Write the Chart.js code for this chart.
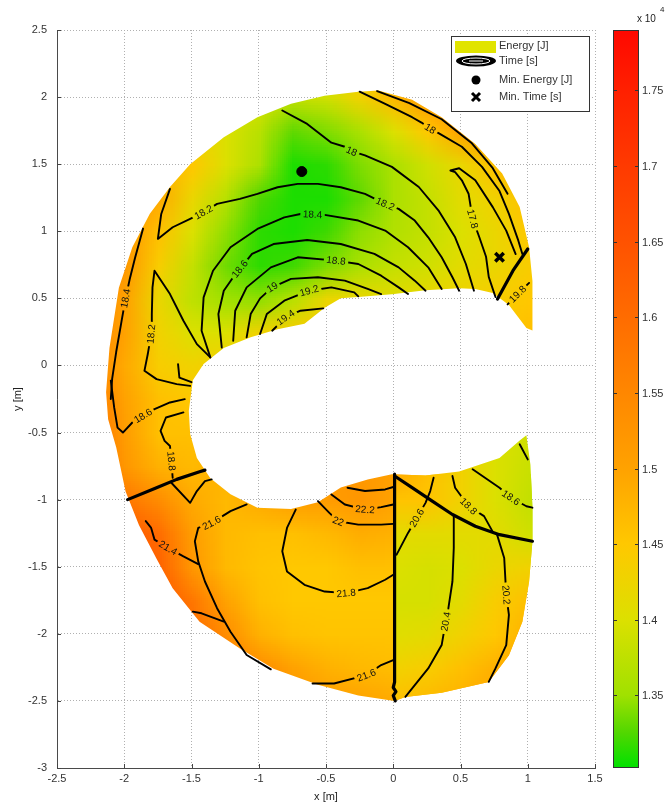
<!DOCTYPE html>
<html><head><meta charset="utf-8">
<script src="https://cdn.jsdelivr.net/npm/chart.js@4.4.1/dist/chart.umd.min.js"></script>
<style>html,body{margin:0;padding:0;background:#fff;}#wrap{width:666px;height:806px;position:relative;}</style>
</head><body><div id="wrap"><canvas id="c" width="666" height="806"></canvas></div>
<script>
// ---------------- DATA ----------------
const xTickValues = [-2.5,-2,-1.5,-1,-0.5,0,0.5,1,1.5];
const yTickValues = [-3,-2.5,-2,-1.5,-1,-0.5,0,0.5,1,1.5,2,2.5];
const cbTickValues = [1.35,1.4,1.45,1.5,1.55,1.6,1.65,1.7,1.75];
const cbMin = 1.302, cbMax = 1.79;           // colour axis, x 10^4 J

const gridX = [-2.25,-2,-1.75,-1.5,-1.25,-1,-0.75,-0.5,-0.25,0,0.25,0.5,0.75,1];
const gridY = [2,1.75,1.5,1.25,1,0.75,0.5,0.25,0,-0.25,-0.5,-0.75,-1,-1.25,-1.5,-1.75,-2,-2.25,-2.5];
const energyGrid = [
 [1.45,1.45,1.43,1.42,1.41,1.40,1.38,1.39,1.43,1.47,1.52,1.54,1.55,1.55],
 [1.48,1.47,1.45,1.43,1.40,1.37,1.33,1.34,1.36,1.40,1.45,1.50,1.53,1.54],
 [1.52,1.50,1.48,1.45,1.40,1.36,1.31,1.315,1.34,1.36,1.39,1.42,1.46,1.50],
 [1.54,1.52,1.49,1.42,1.37,1.325,1.31,1.31,1.33,1.36,1.38,1.41,1.43,1.46],
 [1.55,1.52,1.46,1.40,1.345,1.315,1.31,1.32,1.345,1.365,1.38,1.40,1.42,1.45],
 [1.56,1.52,1.44,1.38,1.335,1.315,1.32,1.34,1.36,1.38,1.39,1.41,1.42,1.44],
 [1.56,1.50,1.42,1.375,1.35,1.345,1.37,1.42,1.42,1.41,1.42,1.43,1.44,1.45],
 [1.56,1.50,1.43,1.40,1.40,1.43,1.44,1.45,1.44,1.43,1.43,1.44,1.45,1.46],
 [1.56,1.49,1.44,1.43,1.44,1.45,1.46,1.47,1.47,1.46,1.45,1.45,1.45,1.46],
 [1.58,1.50,1.46,1.45,1.46,1.47,1.48,1.48,1.48,1.47,1.46,1.45,1.44,1.43],
 [1.60,1.51,1.46,1.46,1.47,1.48,1.49,1.50,1.50,1.48,1.45,1.42,1.40,1.39],
 [1.60,1.52,1.48,1.47,1.48,1.50,1.52,1.52,1.52,1.50,1.46,1.43,1.40,1.385],
 [1.62,1.58,1.54,1.49,1.47,1.49,1.51,1.51,1.52,1.50,1.455,1.43,1.40,1.38],
 [1.66,1.64,1.60,1.51,1.47,1.46,1.46,1.47,1.485,1.48,1.41,1.41,1.41,1.39],
 [1.68,1.66,1.62,1.52,1.47,1.455,1.45,1.45,1.46,1.46,1.395,1.40,1.42,1.43],
 [1.68,1.66,1.64,1.58,1.50,1.46,1.45,1.45,1.45,1.45,1.395,1.41,1.44,1.46],
 [1.66,1.64,1.62,1.60,1.54,1.48,1.46,1.455,1.455,1.455,1.41,1.43,1.45,1.48],
 [1.66,1.64,1.62,1.60,1.58,1.54,1.50,1.48,1.47,1.465,1.44,1.46,1.48,1.50],
 [1.66,1.64,1.62,1.60,1.58,1.56,1.53,1.51,1.50,1.49,1.47,1.48,1.50,1.52]
];
// values just right of the jump along x = 0 (lower half)
const energyRightOfX0 = [null,null,null,null,null,null,null,null,null,null,null,null,1.455,1.41,1.40,1.395,1.405,1.43,1.46];
const energyJumpTopY = -0.81;

// colour map
const cmapValues = [1.302,1.325,1.35,1.40,1.45,1.50,1.55,1.60,1.65,1.70,1.75,1.79];
const cmapColors = [[0,225,0],[80,215,0],[160,225,0],[220,224,0],[255,200,0],[255,162,0],[255,135,0],[255,108,0],[255,82,0],[255,58,0],[255,32,0],[255,8,0]];

// domain (C-shaped region)
const regionOuter = [[1.035,0.26],[1.035,0.63],[1.01,0.88],[0.94,1.18],[0.81,1.43],[0.61,1.65],[0.36,1.85],[0.14,1.98],[-0.11,2.05],[-0.26,2.04],[-0.51,2.01],[-0.76,1.95],[-1.01,1.85],[-1.26,1.70],[-1.51,1.50],[-1.66,1.33],[-1.81,1.13],[-1.94,0.88],[-2.04,0.58],[-2.11,0.13],[-2.135,-0.2],[-2.12,-0.4],[-2.06,-0.61],[-1.99,-0.94],[-1.89,-1.19],[-1.76,-1.44],[-1.64,-1.66],[-1.44,-1.91],[-1.14,-2.11],[-0.89,-2.26],[-0.56,-2.38],[-0.26,-2.46],[0.01,-2.5],[0.09,-2.47],[0.36,-2.44],[0.71,-2.36],[0.86,-2.16],[0.96,-1.91],[1.01,-1.61],[1.035,-1.31],[1.035,-1.06],[1.02,-0.74],[0.99,-0.52]];
const regionInner = [[0.94,-0.56],[0.79,-0.69],[0.49,-0.79],[0.24,-0.82],[-0.01,-0.81],[-0.19,-0.85],[-0.39,-0.91],[-0.56,-1.02],[-0.76,-1.07],[-1.01,-1.06],[-1.21,-0.96],[-1.36,-0.84],[-1.46,-0.69],[-1.51,-0.51],[-1.52,-0.34],[-1.49,-0.11],[-1.41,0.01],[-1.26,0.13],[-1.06,0.21],[-0.86,0.27],[-0.66,0.31],[-0.51,0.43],[-0.39,0.50],[-0.26,0.51],[-0.01,0.53],[0.24,0.56],[0.49,0.575],[0.61,0.57],[0.74,0.54],[0.86,0.45],[0.99,0.28]];

// time contours [s]
const time18Top = [[-0.25,2.04],[-0.06,1.95],[0.14,1.85],[0.21,1.81],[0.275,1.764],[0.34,1.73],[0.51,1.63],[0.66,1.48],[0.79,1.30],[0.86,1.13],[0.93,0.93],[0.96,0.83]];
const timeEdgeTop = [[-0.12,2.045],[0.12,1.955],[0.36,1.835],[0.58,1.66],[0.74,1.47],[0.85,1.28]];
const time18Mid = [[-0.825,1.90],[-0.64,1.80],[-0.46,1.66],[-0.36,1.63],[-0.31,1.597],[-0.21,1.565],[-0.01,1.48],[0.19,1.33],[0.34,1.15],[0.46,0.955],[0.54,0.756],[0.60,0.557]];
const time178 = [[0.76,0.51],[0.71,0.66],[0.69,0.81],[0.64,0.955],[0.59,1.092],[0.56,1.28],[0.51,1.38],[0.46,1.44],[0.425,1.453],[0.49,1.47],[0.61,1.38],[0.74,1.18],[0.84,1.005],[0.91,0.83]];
const time182 = [[-1.66,1.316],[-1.725,1.129],[-1.75,0.943],[-1.64,1.03],[-1.51,1.092],[-1.41,1.142],[-1.31,1.204],[-1.14,1.241],[-1.01,1.279],[-0.86,1.328],[-0.71,1.353],[-0.56,1.353],[-0.39,1.328],[-0.21,1.279],[-0.06,1.204],[0.04,1.167],[0.16,1.08],[0.26,0.955],[0.36,0.806],[0.44,0.657],[0.49,0.557]];
const time184 = [[-1.36,0.06],[-1.425,0.259],[-1.41,0.507],[-1.34,0.706],[-1.21,0.881],[-1.01,1.017],[-0.81,1.104],[-0.69,1.129],[-0.6,1.125],[-0.51,1.122],[-0.26,1.08],[-0.06,1.005],[0.11,0.881],[0.26,0.731],[0.36,0.57]];
const time186 = [[-1.275,0.134],[-1.30,0.383],[-1.26,0.557],[-1.19,0.657],[-1.14,0.72],[-1.05,0.831],[-0.89,0.905],[-0.64,0.935],[-0.39,0.905],[-0.14,0.831],[0.04,0.731],[0.16,0.632],[0.24,0.557]];
const time188 = [[-1.19,0.184],[-1.175,0.408],[-1.09,0.582],[-0.91,0.731],[-0.71,0.806],[-0.425,0.781],[-0.26,0.756],[-0.09,0.669],[0.04,0.582],[0.11,0.532]];
const time19 = [[-1.09,0.209],[-1.06,0.383],[-0.99,0.50],[-0.9,0.582],[-0.76,0.645],[-0.56,0.657],[-0.36,0.632],[-0.19,0.57],[-0.09,0.532]];
const time192 = [[-0.99,0.234],[-0.94,0.383],[-0.81,0.483],[-0.625,0.557],[-0.46,0.582],[-0.29,0.545],[-0.26,0.515]];
const time194 = [[-0.9,0.259],[-0.8,0.358],[-0.69,0.408],[-0.52,0.425]];
const time184Left = [[-1.86,1.02],[-1.92,0.80],[-1.96,0.64],[-1.99,0.50],[-2.02,0.33],[-2.06,0.10],[-2.09,-0.10],[-2.10,-0.25]];
const time182Left = [[-1.51,-0.152],[-1.61,-0.139],[-1.76,-0.102],[-1.85,-0.04],[-1.825,0.085],[-1.80,0.234],[-1.795,0.383],[-1.79,0.582],[-1.775,0.706],[-1.66,0.532],[-1.56,0.333],[-1.46,0.159],[-1.36,0.06]];
const timeSmallLeft = [[-1.6,0.01],[-1.59,-0.09],[-1.50,-0.125]];
const time186Low = [[-2.1,-0.113],[-2.075,-0.313],[-2.05,-0.463],[-2.01,-0.5],[-1.94,-0.425],[-1.86,-0.375],[-1.775,-0.325],[-1.66,-0.276],[-1.55,-0.251]];
const time188Low = [[-1.56,-0.35],[-1.69,-0.388],[-1.73,-0.488],[-1.70,-0.562],[-1.66,-0.6],[-1.65,-0.712],[-1.64,-0.837]];
const timeThickLeft = [[-1.975,-1.0],[-1.76,-0.911],[-1.61,-0.849],[-1.44,-0.792],[-1.40,-0.78]];
const timeSmallV = [[-1.65,-0.874],[-1.51,-1.024],[-1.46,-0.936],[-1.40,-0.862],[-1.35,-0.849]];
const time216a = [[-1.09,-1.036],[-1.21,-1.086],[-1.35,-1.173],[-1.45,-1.211],[-1.475,-1.31],[-1.45,-1.46],[-1.40,-1.61],[-1.31,-1.809],[-1.21,-1.984],[-1.09,-2.158],[-0.91,-2.265]];
const time214 = [[-1.84,-1.16],[-1.80,-1.211],[-1.775,-1.298],[-1.675,-1.36],[-1.56,-1.423],[-1.45,-1.48]];
const timeSmallLow = [[-1.49,-1.835],[-1.425,-1.847],[-1.26,-1.909]];
const time222a = [[-0.34,-0.911],[-0.21,-0.936],[-0.06,-0.924],[0.0,-0.906]];
const time222 = [[-0.46,-0.961],[-0.36,-1.036],[-0.21,-1.074],[-0.09,-1.056],[0.0,-1.036]];
const time22 = [[-0.56,-1.011],[-0.475,-1.099],[-0.41,-1.161],[-0.26,-1.186],[-0.09,-1.186],[0.0,-1.181]];
const time218 = [[-0.725,-1.074],[-0.79,-1.211],[-0.825,-1.385],[-0.79,-1.535],[-0.66,-1.635],[-0.51,-1.685],[-0.35,-1.697],[-0.19,-1.66],[-0.06,-1.597],[0.0,-1.56]];
const time216b = [[-0.6,-2.37],[-0.44,-2.37],[-0.2,-2.308],[-0.09,-2.233],[0.0,-2.196]];
const timeThickV = [[0.01,-0.81],[0.01,-2.36],[0.0,-2.40],[0.02,-2.43],[0.0,-2.46],[0.015,-2.5]];
const timeThickDiag = [[0.01,-0.824],[0.14,-0.911],[0.29,-1.011],[0.44,-1.111],[0.61,-1.198],[0.79,-1.261],[1.035,-1.31]];
const time206 = [[0.025,-1.41],[0.11,-1.248],[0.175,-1.136],[0.24,-1.024],[0.275,-0.936],[0.3,-0.837]];
const time204 = [[0.45,-1.12],[0.45,-1.36],[0.44,-1.61],[0.41,-1.809],[0.39,-1.909],[0.36,-2.084],[0.26,-2.258],[0.09,-2.47]];
const time202 = [[0.77,-1.255],[0.825,-1.435],[0.84,-1.71],[0.86,-1.859],[0.84,-2.084],[0.76,-2.258],[0.71,-2.358]];
const time188R = [[0.44,-0.824],[0.46,-0.911],[0.56,-1.049],[0.675,-1.123],[0.74,-1.24]];
const time186R = [[0.59,-0.774],[0.79,-0.911],[0.875,-0.986],[0.99,-1.049],[1.035,-1.06]];
const timeEdgeRightLow = [[0.94,-0.587],[1.0,-0.70]];
const time198 = [[0.85,0.455],[0.925,0.532],[1.01,0.615]];
const timeThickUR = [[1.0,0.868],[0.89,0.706],[0.775,0.495]];

const thinContours = [time18Top,timeEdgeTop,time18Mid,time178,time182,time184,time186,time188,time19,time192,time194,
  time184Left,time182Left,timeSmallLeft,time186Low,time188Low,timeSmallV,time216a,time214,timeSmallLow,
  time222a,time222,time22,time218,time216b,time206,time204,time202,time188R,time186R,timeEdgeRightLow,time198];
const thickContours = [timeThickLeft,timeThickV,timeThickDiag,timeThickUR];

// contour labels: [text, x, y]
const contourLabels = [
 ['18',0.275,1.764],['18',-0.31,1.597],['17.8',0.59,1.092],['18.2',-1.41,1.142],['18.2',-0.06,1.204],
 ['18.4',-0.6,1.125],['18.6',-1.14,0.72],['18.8',-0.425,0.781],['19',-0.9,0.582],['19.2',-0.625,0.557],
 ['19.4',-0.8,0.358],['18.4',-1.99,0.50],['18.2',-1.80,0.234],['19.8',0.925,0.532],
 ['18.6',-1.86,-0.375],['18.8',-1.65,-0.712],['21.6',-1.35,-1.173],['21.4',-1.675,-1.36],
 ['22.2',-0.21,-1.074],['22',-0.41,-1.161],['21.8',-0.35,-1.697],['21.6',-0.2,-2.308],
 ['20.6',0.175,-1.136],['20.4',0.39,-1.909],['20.2',0.84,-1.71],['18.8',0.56,-1.049],['18.6',0.875,-0.986]
];

const minEnergyPoint = [-0.68,1.445];
const minTimePoint = [0.79,0.806];

// ---------------- DRAWING ----------------
const FONT = '"Liberation Sans", Arial, Helvetica, sans-serif';
const fmt = v => String(Math.round(v*100)/100);

function energyColor(v){
  if (v <= cmapValues[0]) return cmapColors[0];
  for (let i=1;i<cmapValues.length;i++){
    if (v <= cmapValues[i]){
      const t=(v-cmapValues[i-1])/(cmapValues[i]-cmapValues[i-1]);
      return cmapColors[i-1].map((c,k)=>Math.round(c+(cmapColors[i][k]-c)*t));
    }
  }
  return cmapColors[cmapColors.length-1];
}
function buildImage(grid){
  const c=document.createElement('canvas'); c.width=gridX.length; c.height=gridY.length;
  const g=c.getContext('2d'); const im=g.createImageData(c.width,c.height);
  for(let j=0;j<gridY.length;j++) for(let i=0;i<gridX.length;i++){
    const col=energyColor(grid[j][i]); const o=(j*c.width+i)*4;
    im.data[o]=col[0]; im.data[o+1]=col[1]; im.data[o+2]=col[2]; im.data[o+3]=255;
  }
  g.putImageData(im,0,0); return c;
}
const gridB = energyGrid.map((row,j)=>row.map((v,i)=>(gridX[i]===0 && energyRightOfX0[j]!=null)?energyRightOfX0[j]:v));
let imgA=null, imgB=null;

function regionPath(ctx,xs,ys){
  ctx.beginPath();
  regionOuter.concat(regionInner).forEach((p,k)=>{
    const X=xs.getPixelForValue(p[0]), Y=ys.getPixelForValue(p[1]);
    if(k) ctx.lineTo(X,Y); else ctx.moveTo(X,Y);
  });
  ctx.closePath();
}
function paintField(chart, extra){
  const ctx=chart.ctx, xs=chart.scales.x, ys=chart.scales.y;
  if(!imgA){ imgA=buildImage(energyGrid); imgB=buildImage(gridB); }
  const dx=gridX[1]-gridX[0], dy=gridY[0]-gridY[1];
  const l=xs.getPixelForValue(gridX[0]-dx/2), r=xs.getPixelForValue(gridX[gridX.length-1]+dx/2);
  const t=ys.getPixelForValue(gridY[0]+dy/2), b=ys.getPixelForValue(gridY[gridY.length-1]-dy/2);
  for(const pass of [0,1]){
    ctx.save();
    regionPath(ctx,xs,ys); ctx.clip();
    if(pass===1){
      const x0=xs.getPixelForValue(0), yj=ys.getPixelForValue(energyJumpTopY);
      ctx.beginPath(); ctx.rect(x0,yj,xs.right-x0,ys.bottom-yj); ctx.clip();
    }
    if(extra){ const tr=ctx.getTransform(); extra(ctx); ctx.setTransform(tr); }
    ctx.imageSmoothingEnabled=true; ctx.imageSmoothingQuality='low';
    ctx.drawImage(pass?imgB:imgA, l, t, r-l, b-t);
    ctx.restore();
  }
}
function labelAngle(lx,ly,xs,ys){
  let best=Infinity, ang=0;
  for(const line of thinContours.concat(thickContours)){
    for(let k=0;k<line.length;k++){
      const d=Math.hypot(line[k][0]-lx,line[k][1]-ly);
      if(d<best){
        best=d;
        const a=line[Math.max(0,k-1)], c=line[Math.min(line.length-1,k+1)];
        ang=Math.atan2(ys.getPixelForValue(c[1])-ys.getPixelForValue(a[1]), xs.getPixelForValue(c[0])-xs.getPixelForValue(a[0]));
      }
    }
  }
  if(ang>Math.PI/2) ang-=Math.PI;
  if(ang<=-Math.PI/2) ang+=Math.PI;
  return ang;
}

const fieldPlugin = {
  id:'field',
  beforeDatasetsDraw(chart){ paintField(chart,null); },
  afterDatasetsDraw(chart){
    const ctx=chart.ctx, xs=chart.scales.x, ys=chart.scales.y;
    ctx.save();
    ctx.font='10px '+FONT;
    for(const [txt,lx,ly] of contourLabels){
      const px=xs.getPixelForValue(lx), py=ys.getPixelForValue(ly);
      const a=labelAngle(lx,ly,xs,ys);
      const w=ctx.measureText(txt).width+5, h=11;
      paintField(chart,(c)=>{ c.translate(px,py); c.rotate(a); c.beginPath(); c.rect(-w/2,-h/2,w,h); c.clip(); });
      ctx.save(); ctx.translate(px,py); ctx.rotate(a);
      ctx.fillStyle='#111'; ctx.textAlign='center'; ctx.textBaseline='middle';
      ctx.fillText(txt,0,0.5); ctx.restore();
    }
    ctx.restore();
  },
  afterDraw(chart){
    const ctx=chart.ctx, xs=chart.scales.x, ys=chart.scales.y, cb=chart.scales.cb, ca=chart.chartArea;
    ctx.save();
    // inward ticks
    ctx.strokeStyle='#444'; ctx.lineWidth=1;
    for(const v of xTickValues){ const X=Math.round(xs.getPixelForValue(v))+0.5; ctx.beginPath(); ctx.moveTo(X,ca.bottom); ctx.lineTo(X,ca.bottom-4); ctx.stroke(); }
    for(const v of yTickValues){ const Y=Math.round(ys.getPixelForValue(v))+0.5; ctx.beginPath(); ctx.moveTo(ca.left,Y); ctx.lineTo(ca.left+4,Y); ctx.stroke(); }
    // axis titles
    ctx.fillStyle='#222'; ctx.font='11px '+FONT; ctx.textAlign='center'; ctx.textBaseline='middle';
    ctx.fillText('x [m]', (ca.left+ca.right)/2, 797);
    ctx.save(); ctx.translate(18,(ca.top+ca.bottom)/2); ctx.rotate(-Math.PI/2); ctx.fillText('y [m]',0,0); ctx.restore();
    // colour bar
    const bx0=ca.right+18, bw=26;
    const yTop=cb.getPixelForValue(cbMax), yBot=cb.getPixelForValue(cbMin);
    const grad=ctx.createLinearGradient(0,yBot,0,yTop);
    cmapValues.forEach((v,i)=>{ const f=Math.min(1,Math.max(0,(v-cbMin)/(cbMax-cbMin))); const c=cmapColors[i]; grad.addColorStop(f,`rgb(${c[0]},${c[1]},${c[2]})`); });
    ctx.fillStyle=grad; ctx.fillRect(bx0,yTop,bw,yBot-yTop);
    ctx.strokeStyle='#333'; ctx.lineWidth=1; ctx.strokeRect(bx0+0.5,yTop+0.5,bw-1,yBot-yTop-1);
    ctx.fillStyle='#333'; ctx.font='11px '+FONT; ctx.textAlign='left'; ctx.textBaseline='middle';
    for(const v of cbTickValues){
      const Y=Math.round(cb.getPixelForValue(v))+0.5;
      ctx.beginPath(); ctx.moveTo(bx0,Y); ctx.lineTo(bx0+4,Y); ctx.moveTo(bx0+bw-4,Y); ctx.lineTo(bx0+bw,Y); ctx.stroke();
      ctx.fillText(fmt(v), bx0+bw+3, Y);
    }
    ctx.fillStyle='#222'; ctx.textAlign='left'; ctx.textBaseline='alphabetic';
    ctx.font='10px '+FONT; ctx.fillText('x 10', bx0+24, 22);
    ctx.font='8px '+FONT; ctx.fillText('4', bx0+47, 12);
    // legend
    const L=451, T=36, W=138, H=75;
    ctx.fillStyle='#fff'; ctx.fillRect(L,T,W,H);
    ctx.strokeStyle='#333'; ctx.lineWidth=1; ctx.strokeRect(L+0.5,T+0.5,W,H);
    ctx.fillStyle='rgb(225,228,0)'; ctx.fillRect(L+4,T+5,41,12);
    const ix=L+25;
    ctx.fillStyle='#000'; ctx.beginPath(); ctx.ellipse(ix,T+25,20,5.5,0,0,Math.PI*2); ctx.fill();
    ctx.strokeStyle='#fff'; ctx.lineWidth=1; ctx.beginPath(); ctx.ellipse(ix,T+25,14,3,0,0,Math.PI*2); ctx.stroke();
    ctx.beginPath(); ctx.moveTo(ix-7,T+25); ctx.lineTo(ix+7,T+25); ctx.stroke();
    ctx.fillStyle='#000'; ctx.beginPath(); ctx.arc(ix,T+44,4.5,0,Math.PI*2); ctx.fill();
    ctx.strokeStyle='#000'; ctx.lineWidth=3; ctx.beginPath();
    ctx.moveTo(ix-4,T+57); ctx.lineTo(ix+4,T+65); ctx.moveTo(ix+4,T+57); ctx.lineTo(ix-4,T+65); ctx.stroke();
    ctx.fillStyle='#333'; ctx.font='11px '+FONT; ctx.textAlign='left'; ctx.textBaseline='middle';
    ctx.fillText('Energy [J]',L+48,T+10);
    ctx.fillText('Time [s]',L+48,T+25);
    ctx.fillText('Min. Energy [J]',L+48,T+44);
    ctx.fillText('Min. Time [s]',L+48,T+61);
    ctx.restore();
  }
};

const lineDs = (arr,w)=>({data:arr.map(p=>({x:p[0],y:p[1]})), showLine:true, pointRadius:0, borderColor:'#000', borderWidth:w, borderJoinStyle:'round', borderCapStyle:'round', tension:0, fill:false});
const datasets = [
  {label:'Min. Energy [J]', data:[{x:minEnergyPoint[0],y:minEnergyPoint[1]}], pointStyle:'circle', pointRadius:5, backgroundColor:'#000', borderColor:'#000', borderWidth:1, showLine:false},
  {label:'Min. Time [s]', data:[{x:minTimePoint[0],y:minTimePoint[1]}], pointStyle:'crossRot', pointRadius:6, borderColor:'#000', borderWidth:3.5, showLine:false},
  ...thickContours.map(a=>lineDs(a,3.2)),
  ...thinContours.map(a=>lineDs(a,1.9))
];

const gridCfg = {color:'#b0b0b0', lineWidth:1, drawTicks:false};
const borderCfg = {display:true, color:'#4a4a4a', width:1, dash:[1,2]};
const tickFont = {family:FONT, size:11};

new Chart(document.getElementById('c'), {
  type:'scatter',
  data:{datasets},
  options:{
    responsive:false, animation:false, devicePixelRatio:1,
    layout:{padding:{top:30,left:0,right:0,bottom:0}},
    plugins:{legend:{display:false}, tooltip:{enabled:false}},
    scales:{
      x:{type:'linear', position:'bottom', min:-2.5, max:1.5,
         afterBuildTicks:s=>{ s.ticks=xTickValues.map(v=>({value:v})); },
         afterFit:s=>{ s.height=38; },
         grid:gridCfg, border:borderCfg,
         ticks:{padding:4, color:'#333', font:tickFont, autoSkip:false, maxRotation:0, callback:v=>fmt(v)}},
      y:{type:'linear', position:'left', min:-3, max:2.5,
         afterBuildTicks:s=>{ s.ticks=yTickValues.map(v=>({value:v})); },
         afterFit:s=>{ s.width=57; },
         grid:gridCfg, border:borderCfg,
         ticks:{padding:10, color:'#333', font:tickFont, autoSkip:false, callback:v=>fmt(v)}},
      cb:{type:'linear', position:'right', min:cbMin, max:cbMax,
         afterBuildTicks:s=>{ s.ticks=cbTickValues.map(v=>({value:v})); },
         afterFit:s=>{ s.width=71; },
         grid:{display:false, drawTicks:false}, border:{display:false},
         ticks:{display:false}}
    }
  },
  plugins:[fieldPlugin]
});
</script></body></html>
